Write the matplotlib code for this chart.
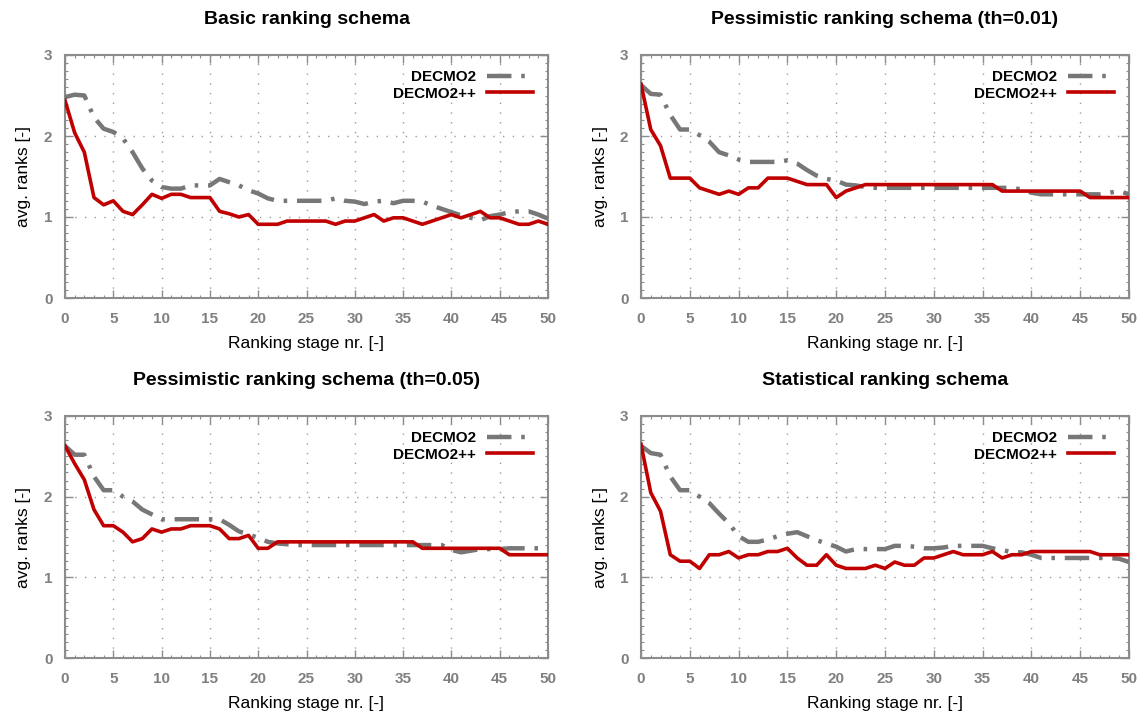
import numpy as np
import matplotlib
matplotlib.use('Agg')
import matplotlib.pyplot as plt
from matplotlib.ticker import MultipleLocator

plt.rcParams['font.family'] = ['Liberation Sans', 'DejaVu Sans']

stages = list(range(51))

titles = ['Basic ranking schema',
          'Pessimistic ranking schema (th=0.01)',
          'Pessimistic ranking schema (th=0.05)',
          'Statistical ranking schema']

# DECMO2 (grey dash-dot)
basic_decmo2 = [2.48, 2.51, 2.50, 2.23, 2.09, 2.05, 1.97, 1.80, 1.60, 1.45,
                1.37, 1.35, 1.35, 1.39, 1.39, 1.39, 1.47, 1.43, 1.39, 1.33,
                1.29, 1.23, 1.20, 1.20, 1.20, 1.20, 1.20, 1.20, 1.23, 1.20,
                1.19, 1.16, 1.19, 1.20, 1.17, 1.20, 1.20, 1.19, 1.14, 1.10,
                1.06, 1.02, 0.99, 0.96, 1.01, 1.03, 1.06, 1.07, 1.07, 1.03,
                0.98]
pess01_decmo2 = [2.63, 2.52, 2.51, 2.26, 2.08, 2.08, 2.01, 1.93, 1.80, 1.76,
                 1.71, 1.68, 1.68, 1.68, 1.68, 1.70, 1.66, 1.58, 1.51, 1.47,
                 1.45, 1.40, 1.39, 1.37, 1.36, 1.36, 1.36, 1.36, 1.36, 1.36,
                 1.36, 1.36, 1.36, 1.36, 1.36, 1.36, 1.36, 1.36, 1.36, 1.34,
                 1.30, 1.28, 1.28, 1.28, 1.28, 1.28, 1.28, 1.28, 1.30, 1.32,
                 1.28]
pess05_decmo2 = [2.63, 2.52, 2.52, 2.25, 2.08, 2.08, 2.00, 1.94, 1.84, 1.78,
                 1.72, 1.72, 1.72, 1.72, 1.72, 1.72, 1.72, 1.65, 1.57, 1.53,
                 1.49, 1.44, 1.42, 1.41, 1.40, 1.40, 1.40, 1.40, 1.40, 1.40,
                 1.40, 1.40, 1.40, 1.40, 1.40, 1.40, 1.40, 1.40, 1.40, 1.40,
                 1.34, 1.31, 1.33, 1.35, 1.35, 1.35, 1.36, 1.36, 1.36, 1.36,
                 1.36]
stat_decmo2 = [2.63, 2.54, 2.52, 2.25, 2.08, 2.08, 2.00, 1.92, 1.79, 1.67,
               1.51, 1.44, 1.44, 1.47, 1.51, 1.54, 1.56, 1.51, 1.46, 1.42,
               1.38, 1.32, 1.35, 1.35, 1.35, 1.35, 1.39, 1.39, 1.38, 1.36,
               1.36, 1.37, 1.39, 1.39, 1.39, 1.39, 1.36, 1.34, 1.31, 1.31,
               1.28, 1.24, 1.24, 1.24, 1.24, 1.24, 1.24, 1.24, 1.24, 1.23,
               1.19]

# DECMO2++ (red solid)
basic_plus = [2.44, 2.04, 1.80, 1.24, 1.15, 1.20, 1.07, 1.03, 1.15, 1.28,
              1.23, 1.28, 1.28, 1.24, 1.24, 1.24, 1.07, 1.04, 1.00, 1.03,
              0.91, 0.91, 0.91, 0.95, 0.95, 0.95, 0.95, 0.95, 0.91, 0.95,
              0.95, 0.99, 1.03, 0.95, 0.99, 0.99, 0.95, 0.91, 0.95, 0.99,
              1.03, 0.99, 1.03, 1.07, 0.99, 0.99, 0.95, 0.91, 0.91, 0.95,
              0.91]
pess01_plus = [2.64, 2.08, 1.88, 1.48, 1.48, 1.48, 1.36, 1.32, 1.28, 1.32,
               1.28, 1.36, 1.36, 1.48, 1.48, 1.48, 1.44, 1.40, 1.40, 1.40,
               1.24, 1.32, 1.36, 1.40, 1.40, 1.40, 1.40, 1.40, 1.40, 1.40,
               1.40, 1.40, 1.40, 1.40, 1.40, 1.40, 1.40, 1.32, 1.32, 1.32,
               1.32, 1.32, 1.32, 1.32, 1.32, 1.32, 1.24, 1.24, 1.24, 1.24,
               1.24]
pess05_plus = [2.63, 2.41, 2.21, 1.84, 1.64, 1.64, 1.56, 1.44, 1.48, 1.60,
               1.56, 1.60, 1.60, 1.64, 1.64, 1.64, 1.60, 1.48, 1.48, 1.52,
               1.36, 1.36, 1.44, 1.44, 1.44, 1.44, 1.44, 1.44, 1.44, 1.44,
               1.44, 1.44, 1.44, 1.44, 1.44, 1.44, 1.44, 1.36, 1.36, 1.36,
               1.36, 1.36, 1.36, 1.36, 1.36, 1.36, 1.28, 1.28, 1.28, 1.28,
               1.28]
stat_plus = [2.65, 2.05, 1.82, 1.28, 1.20, 1.20, 1.11, 1.28, 1.28, 1.32,
             1.24, 1.28, 1.28, 1.32, 1.32, 1.36, 1.24, 1.15, 1.15, 1.28,
             1.15, 1.11, 1.11, 1.11, 1.15, 1.11, 1.19, 1.15, 1.15, 1.24,
             1.24, 1.28, 1.32, 1.28, 1.28, 1.28, 1.32, 1.24, 1.28, 1.28,
             1.32, 1.32, 1.32, 1.32, 1.32, 1.32, 1.32, 1.28, 1.28, 1.28,
             1.28]

decmo2_all = [basic_decmo2, pess01_decmo2, pess05_decmo2, stat_decmo2]
plus_all = [basic_plus, pess01_plus, pess05_plus, stat_plus]

W, H = 1146, 717
fig = plt.figure(figsize=(W / 100, H / 100), dpi=100)

# axes boxes in pixels: left, right, top, bottom
boxes = [(65, 548, 55, 298), (641, 1129, 55, 298),
         (65, 548, 416, 658), (641, 1129, 416, 658)]

frame_col = '#8c8c8c'
for i in range(4):
    l, r, t, b = boxes[i]
    ax = fig.add_axes([l / W, 1 - b / H, (r - l) / W, (b - t) / H])
    ax.plot(stages, decmo2_all[i], color='#777777', lw=3.2,
            dashes=[5.5, 2.2, 0.8, 2.2], label='DECMO2', zorder=3)
    ax.plot(stages, plus_all[i], color='#c00000', lw=2.6,
            label='DECMO2++', zorder=4)
    ax.set_xlim(0, 50)
    ax.set_ylim(0, 3)
    ax.xaxis.set_major_locator(MultipleLocator(5))
    ax.xaxis.set_minor_locator(MultipleLocator(1))
    ax.yaxis.set_major_locator(MultipleLocator(1))
    ax.yaxis.set_minor_locator(MultipleLocator(0.1))
    ax.grid(True, which='major', color='#9a9a9a', lw=1.0,
            linestyle=(0, (1, 6)))
    ax.tick_params(which='both', direction='in', top=True, right=True,
                   color=frame_col, labelcolor='#808080', labelsize=11)
    ax.tick_params(which='major', length=6, width=1)
    ax.tick_params(which='minor', length=2.5, width=0.8)
    for lab in ax.get_xticklabels() + ax.get_yticklabels():
        lab.set_fontweight('bold')
    ax.tick_params(axis='x', pad=10)
    ax.tick_params(axis='y', pad=9)
    for sp in ax.spines.values():
        sp.set_color(frame_col)
        sp.set_linewidth(1.5)
    ax.set_xlabel('Ranking stage nr. [-]', fontsize=12.5, labelpad=7)
    ax.set_ylabel('avg. ranks [-]', fontsize=12.5, labelpad=9)
    ax.set_title(titles[i], fontsize=14, fontweight='bold', pad=22)
    leg = ax.legend(loc='upper right', frameon=False, markerfirst=False,
                    handlelength=3.0, handletextpad=0.7, labelspacing=0.15,
                    borderaxespad=0.6, prop={'weight': 'bold', 'size': 11})

fig.savefig('out.png', dpi=100)
